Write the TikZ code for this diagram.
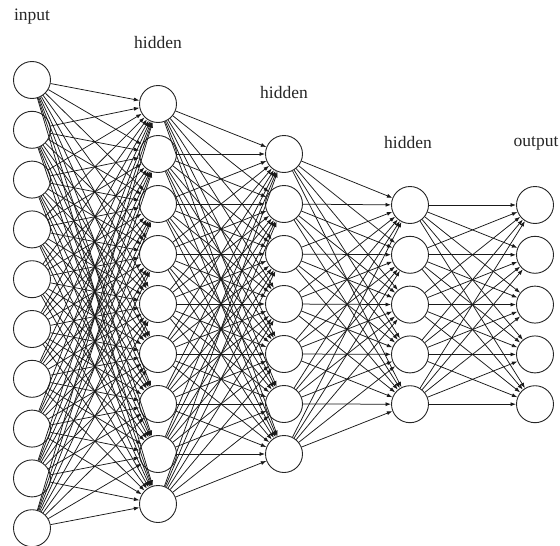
\documentclass[tikz,border=0pt]{standalone}
\usepackage{fontspec}
\setmainfont{Liberation Serif}
\usetikzlibrary{arrows.meta}
\begin{document}
\begin{tikzpicture}[x=1pt,y=-1pt,
  neuron/.style={circle,draw=black!85,line width=0.9pt,fill=white,minimum size=37pt,inner sep=0pt},
  conn/.style={draw=black!90,line width=0.75pt,-{Latex[length=5.5pt,width=4pt]}},
  layerlabel/.style={font=\fontsize{17.5}{20}\selectfont,text=black!85}]
\useasboundingbox (0,0) rectangle (560,546);

% layers of neurons
\foreach \k in {1,...,10} \node[neuron] (i\k) at (32,{80+49.8*(\k-1)}) {};
\foreach \k in {1,...,9}  \node[neuron] (a\k) at (158,{104+50*(\k-1)}) {};
\foreach \k in {1,...,7}  \node[neuron] (b\k) at (284,{154+50*(\k-1)}) {};
\foreach \k in {1,...,5}  \node[neuron] (c\k) at (410,{205+49.8*(\k-1)}) {};
\foreach \k in {1,...,5}  \node[neuron] (o\k) at (535,{205+49.8*(\k-1)}) {};

% full connections between consecutive layers
\foreach \s in {1,...,10} \foreach \t in {1,...,9} \draw[conn] (i\s) -- (a\t);
\foreach \s in {1,...,9}  \foreach \t in {1,...,7} \draw[conn] (a\s) -- (b\t);
\foreach \s in {1,...,7}  \foreach \t in {1,...,5} \draw[conn] (b\s) -- (c\t);
\foreach \s in {1,...,5}  \foreach \t in {1,...,5} \draw[conn] (c\s) -- (o\t);

% layer titles
\node[layerlabel] (tin) at (32,17) {input};
\node[layerlabel] (th1) at (158,43) {hidden};
\node[layerlabel] (th2) at (284,93) {hidden};
\node[layerlabel] (th3) at (408,143) {hidden};
\node[layerlabel] (tout) at (536,143) {output};
\end{tikzpicture}
\end{document}
